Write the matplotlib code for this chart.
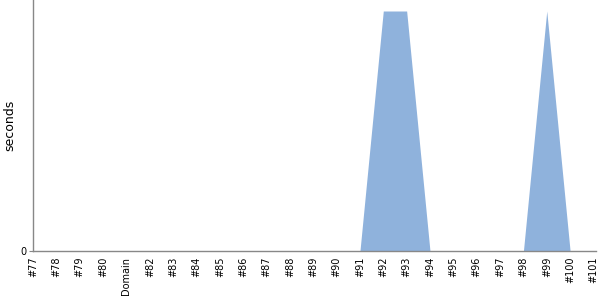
import matplotlib.pyplot as plt

# categories along x and the time values (seconds, relative)
labels = ['#77', '#78', '#79', '#80', 'Domain', '#82', '#83', '#84', '#85', '#86',
          '#87', '#88', '#89', '#90', '#91', '#92', '#93', '#94', '#95', '#96',
          '#97', '#98', '#99', '#100', '#101']
seconds = [0, 0, 0, 0, 0, 0, 0, 0, 0, 0,
           0, 0, 0, 0, 0, 1, 1, 0, 0, 0,
           0, 0, 1, 0, 0]

x = list(range(len(labels)))

fig = plt.figure(figsize=(6, 3), dpi=100)
ax = fig.add_axes([0.055, 0.163, 0.938, 0.837])

ax.fill_between(x, seconds, 0, color='#8fb2dc', linewidth=0)

ax.set_xlim(0, 24.1)
ax.set_ylim(0, 251 / 240)
ax.set_xticks(x)
ax.set_xticklabels(labels, rotation=90, fontsize=7)
ax.set_yticks([0])
ax.set_yticklabels(['0'], fontsize=7)
ax.tick_params(axis='x', length=0, pad=4)
ax.tick_params(axis='y', length=3, color='#888888', pad=2)
ax.set_ylabel('seconds', fontsize=9)
ax.yaxis.set_label_coords(-0.029, 0.5)

for s in ['top', 'right']:
    ax.spines[s].set_visible(False)
for s in ['left', 'bottom']:
    ax.spines[s].set_color('#888888')
    ax.spines[s].set_linewidth(1)

fig.savefig('out.png', dpi=100)
